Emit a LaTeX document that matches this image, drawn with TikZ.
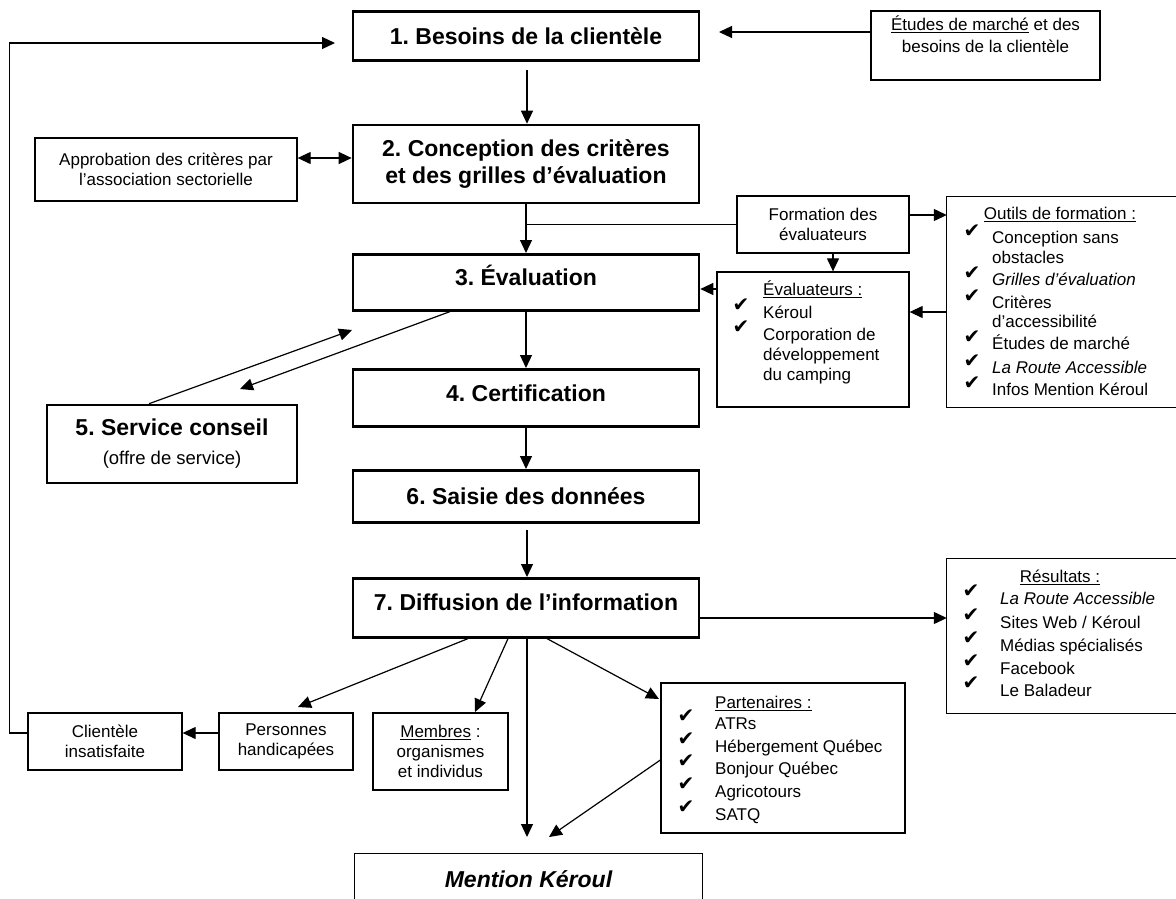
\documentclass[tikz,border=0pt]{standalone}
\usepackage{fontspec}
\setmainfont{Liberation Sans}
\newfontfamily\dejavu{DejaVu Sans}
\usetikzlibrary{arrows.meta}
\frenchspacing
\begin{document}
\begin{tikzpicture}[x=1pt,y=-1pt,
 bigbox/.style={draw,line width=2.6pt,inner sep=0pt,minimum width=346pt,font=\fontsize{23}{27}\selectfont\bfseries,align=center},
 thinbox/.style={draw,line width=1.3pt,inner sep=0pt,font=\fontsize{17}{20}\selectfont,align=center},
 openbox/.style={inner sep=0pt},
 txt/.style={inner sep=0pt,font=\fontsize{17}{20}\selectfont,anchor=mid west},
 ctxt/.style={inner sep=0pt,font=\fontsize{17}{20}\selectfont,anchor=mid},
 chk/.style={inner sep=0pt,font=\dejavu\fontsize{20}{20}\selectfont,anchor=center},
 tip/.style={-{Triangle[length=13pt,width=12pt]}},
 ln/.style={line width=1.2pt},
 arr/.style={ln,tip},
 thin/.style={line width=1.3pt}
]
\useasboundingbox (0,0) rectangle (1176,898);

% main boxes
\node[bigbox,anchor=north,text height=33pt,text depth=16pt] (b1) at (526,10) {1. Besoins de la clientèle};
\node[bigbox,minimum height=78pt] (b2) at (526,164) {2. Conception des critères\\et des grilles d’évaluation};
\node[bigbox,anchor=north,text height=31pt,text depth=25pt] (b3) at (526,253) {3. Évaluation};
\node[bigbox,anchor=north,text height=32pt,text depth=25pt] (b4) at (526,368) {4. Certification};
\node[bigbox,anchor=north,text height=34pt,text depth=18pt] (b6) at (526,469) {6. Saisie des données};
\node[bigbox,anchor=north,text height=32pt,text depth=27pt] (b7) at (526,577) {7. Diffusion de l’information};
\node[bigbox,minimum width=250pt,minimum height=78pt] (b5) at (172,444) {5. Service conseil\\[2pt]{\fontsize{18.5}{20}\selectfont\mdseries (offre de service)}};
\node[openbox,minimum width=347pt,minimum height=50pt,font=\fontsize{23}{27}\selectfont\bfseries\itshape] (mk) at (528.5,879) {Mention Kéroul};
\draw[thin] (mk.south west) -- (mk.north west) -- (mk.north east) -- (mk.south east);

% thin boxes
\node[thinbox,minimum width=262pt,minimum height=63pt] (appr) at (166,169.5) {Approbation des critères par\\l’association sectorielle};
\node[thinbox,minimum width=229pt,minimum height=69pt] (etu) at (985.5,45.5) {};
\node[ctxt] (etu1) at (985.5,28) {\underline{Études de marché} et des};
\node[ctxt] (etu2) at (985.5,50) {besoins de la clientèle};
\node[thinbox,minimum width=172pt,minimum height=57pt] (form) at (823,224.5) {Formation des\\évaluateurs};

% Outils de formation
\node[openbox,minimum width=229pt,minimum height=210pt] (out) at (1061.5,302) {};
\draw[thin] (out.north east) -- (out.north west) -- (out.south west) -- (out.south east);
\node[ctxt] (outH) at (1060,217) {\underline{Outils de formation :}};
\node[chk] (oc1) at (972,231) {✔};
\node[txt] (o1) at (992,241) {Conception sans};
\node[txt] (o1b) at (992,261) {obstacles};
\node[chk] (oc2) at (972,273) {✔};
\node[txt] (o2) at (992,283) {\itshape Grilles d’évaluation};
\node[chk] (oc3) at (972,296) {✔};
\node[txt] (o3) at (992,306) {Critères};
\node[txt] (o3b) at (992,325) {d’accessibilité};
\node[chk] (oc4) at (972,337) {✔};
\node[txt] (o4) at (992,347) {Études de marché};
\node[chk] (oc5) at (972,361) {✔};
\node[txt] (o5) at (992,371) {\itshape La Route Accessible};
\node[chk] (oc6) at (972,383) {✔};
\node[txt] (o6) at (992,393) {Infos Mention Kéroul};

% Evaluateurs
\node[thinbox,minimum width=192pt,minimum height=135pt] (eva) at (813,339.5) {};
\node[txt] (evH) at (763,293) {\underline{Évaluateurs :}};
\node[chk] (ec1) at (741,305) {✔};
\node[txt] (e1) at (763,316) {Kéroul};
\node[chk] (ec2) at (741,327) {✔};
\node[txt] (e2) at (763,338) {Corporation de};
\node[txt] (e2b) at (763,358) {développement};
\node[txt] (e2c) at (763,378) {du camping};

% Resultats
\node[openbox,minimum width=229pt,minimum height=154pt] (res) at (1061.5,636) {};
\draw[thin] (res.north east) -- (res.north west) -- (res.south west) -- (res.south east);
\node[ctxt] (reH) at (1060,580) {\underline{Résultats :}};
\node[chk] (rc1) at (971,591) {✔};
\node[txt] (r1) at (1000,602) {\itshape La Route Accessible};
\node[chk] (rc2) at (971,615) {✔};
\node[txt] (r2) at (1000,626) {Sites Web / Kéroul};
\node[chk] (rc3) at (971,638) {✔};
\node[txt] (r3) at (1000,649) {Médias spécialisés};
\node[chk] (rc4) at (971,661) {✔};
\node[txt] (r4) at (1000,672) {Facebook};
\node[chk] (rc5) at (971,683) {✔};
\node[txt] (r5) at (1000,694) {Le Baladeur};

% Partenaires
\node[thinbox,minimum width=244pt,minimum height=150pt] (part) at (783,758) {};
\node[txt] (paH) at (715,706) {\underline{Partenaires :}};
\node[chk] (pc1) at (686,716) {✔};
\node[txt] (p1) at (715,727) {ATRs};
\node[chk] (pc2) at (686,739) {✔};
\node[txt] (p2) at (715,750) {Hébergement Québec};
\node[chk] (pc3) at (686,761) {✔};
\node[txt] (p3) at (715,772) {Bonjour Québec};
\node[chk] (pc4) at (686,784) {✔};
\node[txt] (p4) at (715,795) {Agricotours};
\node[chk] (pc5) at (686,807) {✔};
\node[txt] (p5) at (715,818) {SATQ};

% bottom left boxes
\node[thinbox,minimum width=154pt,minimum height=57pt] (cli) at (105,741.5) {Clientèle\\insatisfaite};
\node[thinbox,minimum width=134pt,minimum height=57pt] (pers) at (286,741.5) {Personnes\\handicapées};
\node[thinbox,minimum width=135pt,minimum height=77pt] (mem) at (440.5,751.5) {\underline{Membres} :\\organismes\\et individus};

% helper coordinates
\coordinate (loopEnd) at (335,43);
\coordinate (loopX) at (9.6,43);
\coordinate (etuIn) at (719,32);
\coordinate (b1out) at (527,70);
\coordinate (yAp) at (0,158);
\coordinate (yFo) at (0,215);
\coordinate (xFe) at (833,0);
\coordinate (yEv) at (0,289);
\coordinate (yOu) at (0,312);
\coordinate (xA) at (450,0);
\coordinate (sA) at (240,389);
\coordinate (xB) at (149,0);
\coordinate (sB) at (352,330);
\coordinate (b6out) at (527,530);
\coordinate (yRe) at (0,618);
\coordinate (x1) at (468,0);
\coordinate (persTip) at (298,707);
\coordinate (x2) at (508,0);
\coordinate (memTip) at (475,712);
\coordinate (x3) at (527,0);
\coordinate (mkTip1) at (527,837);
\coordinate (x4) at (547,0);
\coordinate (partTip) at (659,699);
\coordinate (yPa) at (0,760);
\coordinate (mkTip2) at (549,837);
\coordinate (yCl) at (0,733);

% connectors
\draw[arr] (cli.west |- yCl) -| (loopX) -- (loopEnd);
\draw[arr] (etu.west |- etuIn) -- (etuIn);
\draw[arr] (b1out) -- (b1out |- b2.north);
\draw[ln,{Triangle[length=13pt,width=12pt]}-{Triangle[length=13pt,width=12pt]}] (appr.east |- yAp) -- (b2.west |- yAp);
\draw[arr] (b2.south) -- (b3.north);
\draw[ln] (b2.south |- form.west) -- (form.west);
\draw[arr] (form.east |- yFo) -- (out.west |- yFo);
\draw[arr] (form.south -| xFe) -- (eva.north -| xFe);
\draw[arr] (eva.west |- yEv) -- (b3.east |- yEv);
\draw[arr] (out.west |- yOu) -- (eva.east |- yOu);
\draw[arr] (b3.south -| xA) -- (sA);
\draw[arr] (b5.north -| xB) -- (sB);
\draw[arr] (b3.south) -- (b4.north);
\draw[arr] (b4.south) -- (b6.north);
\draw[arr] (b6out) -- (b6out |- b7.north);
\draw[arr] (b7.east |- yRe) -- (res.west |- yRe);
\draw[arr] (b7.south -| x1) -- (persTip);
\draw[arr] (b7.south -| x2) -- (memTip);
\draw[arr] (b7.south -| x3) -- (mkTip1);
\draw[arr] (b7.south -| x4) -- (partTip);
\draw[arr] (part.west |- yPa) -- (mkTip2);
\draw[arr] (pers.west |- yCl) -- (cli.east |- yCl);
\end{tikzpicture}
\end{document}
